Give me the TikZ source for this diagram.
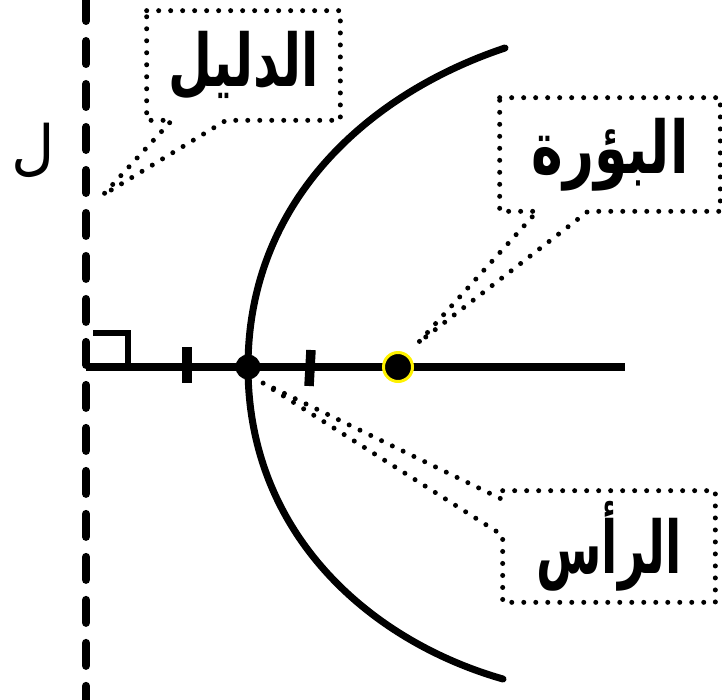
\documentclass[tikz,border=0pt]{standalone}
\usepackage{fontspec}
\newfontfamily\arabicfont[Script=Arabic]{DejaVu Sans}
\TeXXeTstate=1
\usetikzlibrary{calc}

\begin{document}
\begin{tikzpicture}[x=0.02cm,y=-0.02cm,
    dirline/.style={line width=0.16cm,line cap=round,dash pattern=on 0.46cm off 0.40cm},
    axisline/.style={line width=0.16cm},
    curveline/.style={line width=0.14cm,line cap=round},
    tickmark/.style={line width=0.19cm},
    callout/.style={line width=0.1cm,line cap=round,dash pattern=on 0pt off 0.24cm},
    box/.style={inner sep=0pt,draw=none},
    lbl/.style={font=\arabicfont\bfseries\fontsize{36}{40}\selectfont},
    pt/.style={circle,fill=black,inner sep=0pt,minimum size=0.5cm}
]
\useasboundingbox (0,0) rectangle (722,699);

% directrix and axis
\coordinate (dtop) at (86,-2);
\coordinate (dbot) at (86,705);
\draw[dirline] (dtop) -- (dbot);
\node[font=\arabicfont\fontsize{34}{38}\selectfont] (lname) at (33,150) {\beginR ل\endR};

\coordinate (aleft) at (86,367);
\coordinate (aright) at (625,367);
\draw[axisline] (aleft) -- (aright);

% right angle mark
\draw[line width=0.11cm] (93,333) -- (128,333) -- (128,367);

% ticks
\coordinate (t1a) at (187,347); \coordinate (t1b) at (187,383);
\coordinate (t2a) at (311,350); \coordinate (t2b) at (309,386);
\draw[tickmark] (t1a) -- (t1b);
\draw[tickmark] (t2a) -- (t2b);

% the curve
\coordinate (ctop) at (505,48);
\coordinate (cbot) at (503,679);
\draw[curveline] (ctop) .. controls (370,93) and (248,200) .. (248,367)
  .. controls (248,534) and (370,641) .. (cbot);

% vertex and focus
\node[pt] (vtx) at (248,367) {};
\node[pt,minimum size=0.58cm,draw=yellow,line width=0.06cm] (foc) at (398,367) {};

% callouts
\node[box,minimum width=3.86cm,minimum height=2.18cm] (dalil) at (243.5,65.5) {};
\node[lbl] at (dalil) {\scalebox{0.8}[1.15]{\beginR الدليل\endR}};
\coordinate (dalilTip) at (103,195);
\draw[callout] (dalil.north west) -- (dalil.north east) -- (dalil.south east)
  -- ($(dalil.south west)!0.41!(dalil.south east)$) -- (dalilTip)
  -- ($(dalil.south west)!0.13!(dalil.south east)$) -- (dalil.south west) -- cycle;

\node[box,minimum width=4.4cm,minimum height=2.26cm] (bura) at (610,154.5) {};
\node[lbl] at (bura) {\scalebox{0.85}[1.15]{\beginR البؤرة\endR}};
\coordinate (buraTip) at ($(foc)+(20,-24)$);
\draw[callout] (bura.north west) -- (bura.north east) -- (bura.south east)
  -- ($(bura.south west)!0.40!(bura.south east)$) -- (buraTip)
  -- ($(bura.south west)!0.17!(bura.south east)$) -- (bura.south west) -- cycle;

\node[box,minimum width=4.24cm,minimum height=2.22cm] (raas) at (609,546.5) {};
\node[lbl] at (raas) {\scalebox{0.75}[1.15]{\beginR الرأس\endR}};
\coordinate (raasTip) at ($(vtx)+(15,16)$);
\draw[callout] (raas.north west) -- (raas.north east) -- (raas.south east)
  -- (raas.south west) -- ($(raas.north west)!0.40!(raas.south west)$) -- (raasTip)
  -- ($(raas.north west)!0.08!(raas.south west)$) -- cycle;
\end{tikzpicture}
\end{document}
